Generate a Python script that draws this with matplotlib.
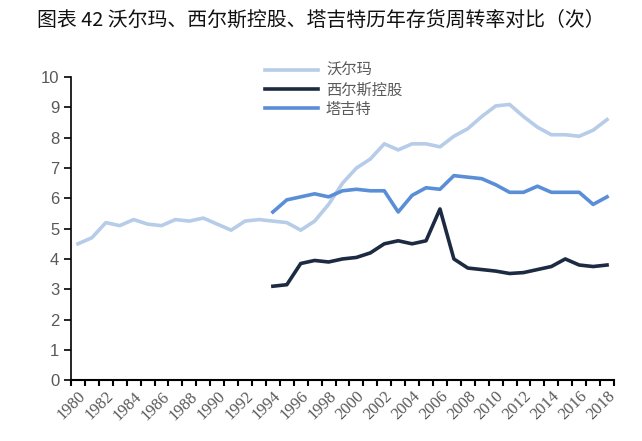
import matplotlib.pyplot as plt
import numpy as np

plt.rcParams['font.family'] = ['Noto Sans CJK SC', 'DejaVu Sans']

years = list(range(1980, 2019))
walmart = [4.5, 4.7, 5.2, 5.1, 5.3, 5.15, 5.1, 5.3, 5.25, 5.35,
           5.15, 4.95, 5.25, 5.3, 5.25, 5.2, 4.95, 5.25, 5.8, 6.5,
           7.0, 7.3, 7.8, 7.6, 7.8, 7.8, 7.7, 8.05, 8.3, 8.7,
           9.05, 9.1, 8.7, 8.35, 8.1, 8.1, 8.05, 8.25, 8.6]
sears_years = list(range(1994, 2019))
sears = [3.1, 3.15, 3.85, 3.95, 3.9, 4.0, 4.05, 4.2, 4.5, 4.6,
         4.5, 4.6, 5.65, 4.0, 3.7, 3.65, 3.6, 3.52, 3.55, 3.65,
         3.75, 4.0, 3.8, 3.75, 3.8]
target = [5.55, 5.95, 6.05, 6.15, 6.05, 6.25, 6.3, 6.25, 6.25, 5.55,
          6.1, 6.35, 6.3, 6.75, 6.7, 6.65, 6.45, 6.2, 6.2, 6.4,
          6.2, 6.2, 6.2, 5.8, 6.05]
names = ['沃尔玛', '西尔斯控股', '塔吉特']
title = '图表 42 沃尔玛、西尔斯控股、塔吉特历年存货周转率对比（次）'

fig = plt.figure(figsize=(6.42, 4.41), dpi=100)
ax = fig.add_axes([0.1106, 0.138, 0.8458, 0.687])

x_all = np.arange(len(years))
x_sub = np.array([years.index(y) for y in sears_years])
ax.plot(x_all, walmart, color='#b7cce8', lw=2.6, label=names[0])
ax.plot(x_sub, sears, color='#1c2a42', lw=2.6, label=names[1])
ax.plot(x_sub, target, color='#5a8ed6', lw=2.6, label=names[2])

ax.set_xlim(-0.5, len(years) - 0.5)
ax.set_ylim(0, 10)
ax.set_yticks(range(0, 11))
ax.set_xticks(np.arange(-0.5, len(years)))
ax.set_xticklabels([])
ax.set_xticks(x_all[::2], minor=True)
ax.set_xticklabels([str(y) for y in years[::2]], minor=True, rotation=45,
                   ha='right', rotation_mode='anchor', fontsize=12,
                   color='#595959', family=['Liberation Serif'])
ax.tick_params(axis='x', which='major', length=4, width=1.5, direction='out')
ax.tick_params(axis='x', which='minor', length=0, pad=6)
ax.tick_params(axis='y', length=5, width=1.2, direction='out', labelsize=12,
               labelcolor='#595959')
for lab in ax.get_yticklabels():
    lab.set_family(['Liberation Sans'])

for s in ['top', 'right']:
    ax.spines[s].set_visible(False)
ax.spines['left'].set_linewidth(1.2)
ax.spines['bottom'].set_linewidth(1.5)

leg = ax.legend(loc='upper left', bbox_to_anchor=(0.357, 1.05), frameon=False,
                handlelength=3.5, handletextpad=0.5, labelspacing=0.15,
                borderpad=0, borderaxespad=0, fontsize=11)
for t in leg.get_texts():
    t.set_color('#595959')

fig.text(0.058, 0.955, title, fontsize=14.3, va='center', ha='left', color='#111111')

fig.savefig('out.png', dpi=100)
